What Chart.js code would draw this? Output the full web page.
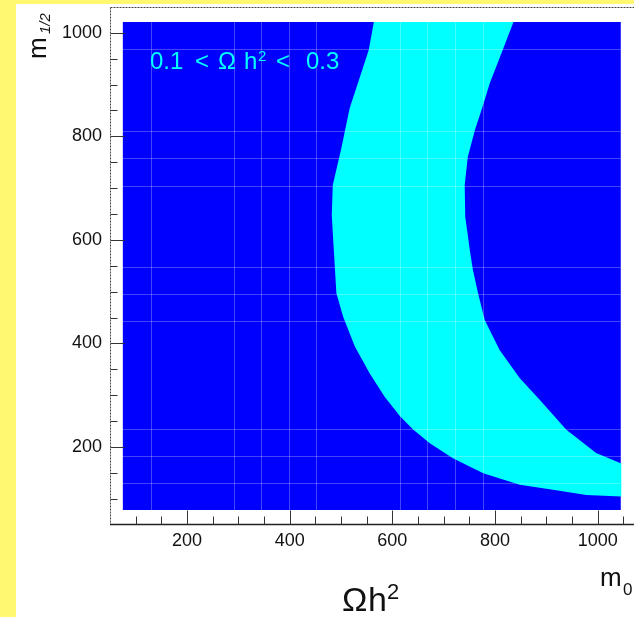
<!DOCTYPE html>
<html><head><meta charset="utf-8">
<script src="https://cdn.jsdelivr.net/npm/chart.js@4.4.0/dist/chart.umd.min.js"></script>
<style>
html,body{margin:0;padding:0;overflow:hidden;width:634px;height:617px;background:#fff870;}
#panel{position:absolute;left:16px;top:4px;width:660px;height:613px;background:#ffffff;}
#wrap{position:absolute;left:0;top:0;width:660px;height:617px;}
</style></head><body>
<div id="panel"></div>
<div id="wrap"><canvas id="c" width="660" height="617"></canvas></div>
<script>
// ---- data ----
const xMajorTicks = [200, 400, 600, 800, 1000];
const yMajorTicks = [200, 400, 600, 800, 1000];
// scanned region (blue) extent in m0 / m1/2
const regionX = [75, 1045];
const regionY = [78, 1021];
// 0.1 < Omega h^2 < 0.3 band: left (low m0) boundary, top -> bottom
const bandLeftX = [564, 554, 533, 517, 500, 484, 482, 486, 491, 504, 527, 556, 585, 615, 641, 673, 718, 777, 848, 913, 978, 1046];
const bandLeftY = [1021, 967, 903, 855, 774, 706, 648, 580, 497, 452, 394, 342, 297, 259, 233, 207, 178, 149, 127, 117, 107, 104];
// right (high m0) boundary, bottom -> top
const bandRightX = [1046, 997, 939, 887, 848, 809, 780, 767, 757, 751, 742, 741, 747, 761, 775, 790, 815, 836];
const bandRightY = [168, 188, 233, 291, 333, 387, 445, 497, 542, 580, 645, 706, 760, 813, 855, 903, 967, 1021];
// histogram bin-edge seams visible in the picture
const seamX = [129, 291, 344, 398, 452, 614, 668, 722, 776];
const seamY = [130, 183, 235, 443, 496, 548, 705, 758, 810, 968];

const FONT = '"Liberation Sans", Arial, Helvetica, sans-serif';

const regionPoints = [
  {x: regionX[0], y: regionY[0]}, {x: regionX[1], y: regionY[0]},
  {x: regionX[1], y: regionY[1]}, {x: regionX[0], y: regionY[1]}, {x: regionX[0], y: regionY[0]}
];
const bandPoints = [];
bandLeftX.forEach((v, i) => bandPoints.push({x: v, y: bandLeftY[i]}));
bandRightX.forEach((v, i) => bandPoints.push({x: v, y: bandRightY[i]}));
bandPoints.push({x: bandLeftX[0], y: bandLeftY[0]});

const deco = {
  id: 'deco',
  afterDatasetsDraw(chart) {
    const ctx = chart.ctx, xs = chart.scales.x, ys = chart.scales.y, a = chart.chartArea;
    ctx.save();
    // seams
    ctx.strokeStyle = 'rgba(255,255,255,0.26)';
    ctx.lineWidth = 1;
    const xl = xs.getPixelForValue(regionX[0]), xr = xs.getPixelForValue(regionX[1]);
    const yt = ys.getPixelForValue(regionY[1]), yb = ys.getPixelForValue(regionY[0]);
    ctx.beginPath();
    seamX.forEach(v => { const p = Math.round(xs.getPixelForValue(v)) + 0.5; ctx.moveTo(p, yt); ctx.lineTo(p, yb); });
    seamY.forEach(v => { const p = Math.round(ys.getPixelForValue(v)) + 0.5; ctx.moveTo(xl, p); ctx.lineTo(xr, p); });
    ctx.stroke();
    // frame
    const L = Math.round(a.left) + 0.5, T = Math.round(a.top) + 0.5, B = Math.round(a.bottom) - 0.5;
    ctx.strokeStyle = '#444';
    ctx.setLineDash([2, 1]);
    ctx.beginPath();
    ctx.moveTo(L, T); ctx.lineTo(chart.width, T);
    ctx.moveTo(L, T); ctx.lineTo(L, B);
    ctx.stroke();
    ctx.setLineDash([]);
    ctx.strokeStyle = '#222';
    ctx.lineWidth = 1.5;
    ctx.beginPath(); ctx.moveTo(L - 0.5, B); ctx.lineTo(chart.width, B); ctx.stroke();
    // ticks
    ctx.lineWidth = 1;
    ctx.strokeStyle = '#333';
    ctx.beginPath();
    for (let v = 100; v <= 1000; v += 50) {
      const len = yMajorTicks.includes(v) ? 14 : 7;
      const p = Math.round(ys.getPixelForValue(v)) + 0.5;
      ctx.moveTo(L, p); ctx.lineTo(L + len, p);
    }
    for (let v = 100; v <= 1100; v += 50) {
      const len = xMajorTicks.includes(v) ? 14 : 8;
      const p = Math.round(xs.getPixelForValue(v)) + 0.5;
      ctx.moveTo(p, B); ctx.lineTo(p, B - len);
    }
    ctx.stroke();
    // annotation
    ctx.fillStyle = '#00ffff';
    ctx.textBaseline = 'alphabetic';
    ctx.textAlign = 'left';
    ctx.font = '24px ' + FONT;
    ctx.fillText('0.1', 150, 69);
    ctx.fillText('<', 195, 69);
    ctx.fillText('\u03A9', 218, 69);
    ctx.fillText('h', 244, 69);
    ctx.fillText('<', 276, 69);
    ctx.fillText('0.3', 306, 69);
    ctx.font = '15px ' + FONT;
    ctx.fillText('2', 258, 61);
    // axis titles
    ctx.fillStyle = '#111';
    ctx.font = '34px ' + FONT;
    ctx.fillText('\u03A9', 342, 611);
    ctx.fillText('h', 368, 611);
    ctx.font = '22px ' + FONT;
    ctx.fillText('2', 387, 599);
    ctx.font = '26px ' + FONT;
    ctx.fillText('m', 600, 586);
    ctx.font = '17px ' + FONT;
    ctx.fillText('0', 623, 595);
    ctx.save();
    ctx.translate(46, 59);
    ctx.rotate(-Math.PI / 2);
    ctx.font = '26px ' + FONT;
    ctx.fillText('m', 0, 0);
    ctx.font = 'italic 15px ' + FONT;
    ctx.fillText('1/2', 25, 4);
    ctx.restore();
    ctx.restore();
  }
};

new Chart(document.getElementById('c'), {
  type: 'scatter',
  data: {
    datasets: [
      {label: '0.1 < \u03A9h\u00B2 < 0.3', data: bandPoints, showLine: true, fill: 'shape',
       backgroundColor: '#00ffff', borderColor: 'rgba(0,0,0,0)', borderWidth: 0, pointRadius: 0, tension: 0},
      {label: 'scan', data: regionPoints, showLine: true, fill: 'shape',
       backgroundColor: '#0000ff', borderColor: 'rgba(0,0,0,0)', borderWidth: 0, pointRadius: 0, tension: 0}
    ]
  },
  options: {
    responsive: false, animation: false, devicePixelRatio: 1,
    layout: {padding: {left: 0, top: 7, right: 11, bottom: 0}},
    plugins: {legend: {display: false}, tooltip: {enabled: false}},
    scales: {
      x: {
        type: 'linear', min: 50, max: 1100,
        afterFit(s) { s.height = 92.5; s.paddingLeft = 0; s.paddingRight = 0; },
        grid: {display: false, drawTicks: false}, border: {display: false},
        ticks: {stepSize: 50, autoSkip: false, maxRotation: 0, padding: 6, color: '#111',
                font: {family: FONT, size: 18},
                callback: v => xMajorTicks.includes(v) ? String(v) : ''}
      },
      y: {
        type: 'linear', min: 50, max: 1050,
        afterFit(s) { s.width = 110; s.paddingTop = 0; s.paddingBottom = 0; },
        grid: {display: false, drawTicks: false}, border: {display: false},
        ticks: {stepSize: 50, autoSkip: false, padding: 8, color: '#111',
                font: {family: FONT, size: 18},
                callback: v => yMajorTicks.includes(v) ? String(v) : ''}
      }
    }
  },
  plugins: [deco]
});
</script>
</body></html>
